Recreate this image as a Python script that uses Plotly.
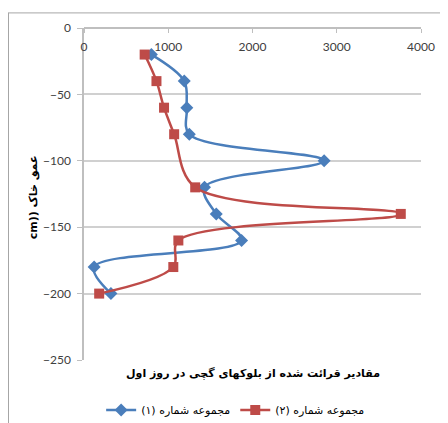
import plotly.graph_objects as go

depth_1 = [-20, -40, -60, -80, -100, -120, -140, -160, -180, -200]
values_1 = [800, 1190, 1220, 1250, 2850, 1430, 1570, 1870, 120, 320]

depth_2 = [-20, -40, -60, -80, -120, -140, -160, -180, -200]
values_2 = [720, 860, 950, 1070, 1320, 3760, 1120, 1060, 180]

name_1 = "مجموعه شماره (۱)\u200f"
name_2 = "مجموعه شماره (۲)\u200f"
x_title = "مقادیر قرائت شده از بلوکهای گچی در روز اول"
y_title = "cm)) عمق خاک"

x_ticks = [0, 1000, 2000, 3000, 4000]
y_ticks = [0, -50, -100, -150, -200, -250]

blue = "#4A7EBB"
red = "#BE4B48"
grid = "#D0D0D0"
axis = "#BFBFBF"

fig = go.Figure()
fig.add_trace(go.Scatter(
    x=values_1, y=depth_1, name=name_1, mode="lines+markers",
    line=dict(color=blue, width=2.5, shape="spline", smoothing=1),
    marker=dict(symbol="diamond", size=10, color=blue),
))
fig.add_trace(go.Scatter(
    x=values_2, y=depth_2, name=name_2, mode="lines+markers",
    line=dict(color=red, width=2.5, shape="spline", smoothing=1),
    marker=dict(symbol="square", size=10, color=red),
))

fig.update_layout(
    width=440, height=415,
    margin=dict(l=76, r=27, t=20, b=63),
    paper_bgcolor="white", plot_bgcolor="white",
    font=dict(family="Lato, Liberation Sans, sans-serif", size=12, color="#404040"),
    showlegend=True,
    legend=dict(orientation="h", x=0.45, xanchor="center",
                yref="container", y=13 / 415, yanchor="middle",
                font=dict(family="DejaVu Sans", size=11, color="black"),
                itemwidth=30, traceorder="normal"),
    xaxis=dict(
        range=[0, 4000], tickvals=x_ticks, side="bottom", anchor="free", position=1,
        ticks="outside", ticklen=4, tickcolor=axis, automargin=False, ticklabelstandoff=4,
        showline=True, linecolor=axis, linewidth=1.5,
        showgrid=False, zeroline=False,
        tickfont=dict(family="Lato, Liberation Sans, sans-serif", size=12, color="#404040"),
    ),
    yaxis=dict(
        range=[-250, 0], tickvals=y_ticks, ticks="outside", ticklen=5, tickcolor=axis,
        showline=True, linecolor=axis, linewidth=1.5, automargin=False, ticklabelstandoff=4,
        showgrid=True, gridcolor=grid, gridwidth=2, zeroline=False,
        tickfont=dict(family="Lato, Liberation Sans, sans-serif", size=12, color="#404040"),
    ),
    annotations=[
        dict(
            text="<b>" + x_title + "</b>", xref="paper", yref="paper",
            x=0.5, y=-0.042, xanchor="center", yanchor="middle", showarrow=False,
            font=dict(family="DejaVu Sans", size=11, color="black"),
        ),
        dict(
            text="<b>" + y_title + "</b>", xref="paper", yref="paper", textangle=-90,
            x=-51 / 337, y=0.49, xanchor="center", yanchor="middle", showarrow=False,
            font=dict(family="DejaVu Sans", size=11, color="black"),
        ),
    ],
    shapes=[
        dict(type="line", xref="paper", yref="paper", x0=-76/337, x1=1.2, y0=345/330, y1=345/330,
             line=dict(color="#A6A6A6", width=1)),
        dict(type="line", xref="paper", yref="paper", x0=-75.5/337, x1=-75.5/337, y0=345/330, y1=-0.3,
             line=dict(color="#A6A6A6", width=1)),
    ],
)

fig.write_html("out.html")
